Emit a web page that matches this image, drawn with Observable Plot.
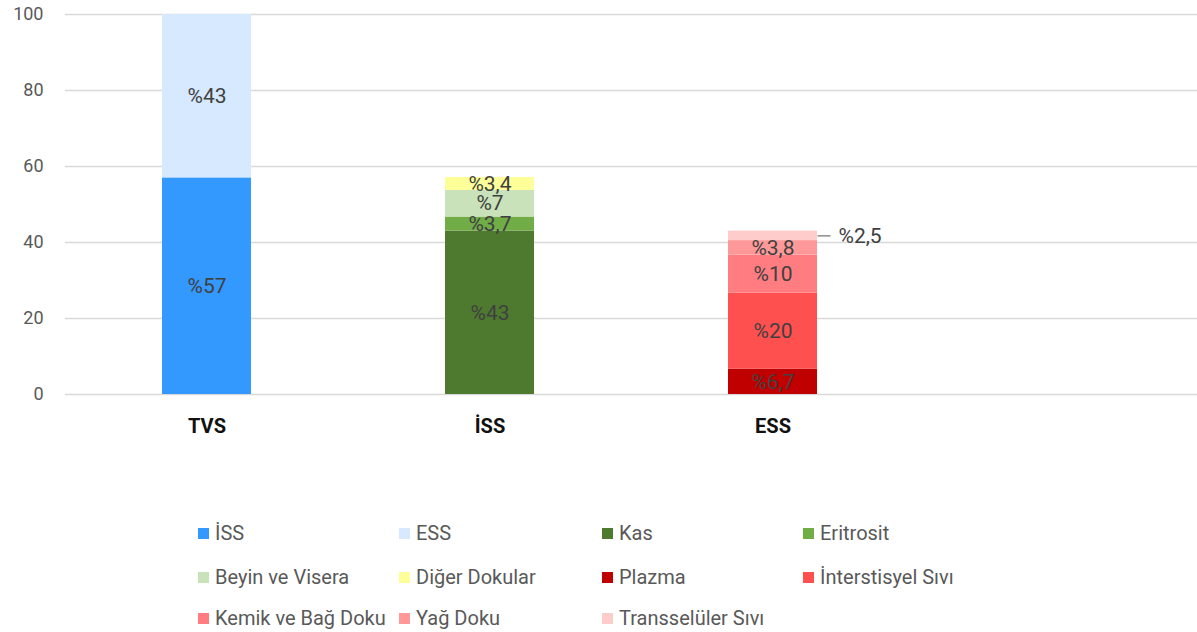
<!DOCTYPE html>
<html><head><meta charset="utf-8">
<script src="https://cdn.jsdelivr.net/npm/d3@7"></script>
<script src="https://cdn.jsdelivr.net/npm/@observablehq/plot@0.6"></script>
<style>
body{margin:0;background:#fff;font-family:Roboto,"Open Sans",sans-serif;}
#wrap{position:relative;width:1197px;height:632px;overflow:hidden;}
#chart{position:absolute;left:0;top:0;}
.leg{position:absolute;display:flex;align-items:center;height:24px;font-size:20px;color:#595959;white-space:nowrap;}
.sw{width:11px;height:11px;margin-right:6px;flex:none;}
</style></head><body><div id="wrap"><div id="chart"></div></div>
<script>
const categories = ["TVS", "İSS", "ESS", ""];
const parts = ["İSS", "ESS", "Kas", "Eritrosit", "Beyin ve Visera", "Diğer Dokular", "Plazma", "İnterstisyel Sıvı", "Kemik ve Bağ Doku", "Yağ Doku", "Transselüler Sıvı"];
const partCategory = ["TVS", "TVS", "İSS", "İSS", "İSS", "İSS", "ESS", "ESS", "ESS", "ESS", "ESS"];
const partValues = [57, 43, 43, 3.7, 7, 3.4, 6.7, 20, 10, 3.8, 2.5];
const partColors = ["#3399FF", "#D6E9FF", "#4E7A2F", "#70AD47", "#C9E2BA", "#FFFF99", "#C00000", "#FF5050", "#FF7C80", "#FF9999", "#FFCCCC"];
const externalLabel = ["Transselüler Sıvı"];
const yTicks = [0, 20, 40, 60, 80, 100];

const fmt = v => "%" + String(v).replace(".", ",");
const data = parts.map((p, i) => ({
  part: p, cat: partCategory[i], value: partValues[i], label: fmt(partValues[i]),
  external: externalLabel.includes(p)
}));

// position of the externally labelled segment, derived from the stack
const ext = [];
data.forEach((d, i) => {
  if (d.external) {
    const below = d3.sum(data.slice(0, i).filter(e => e.cat === d.cat), e => e.value);
    ext.push({cat: d.cat, y: below + d.value / 2, label: d.label});
  }
});

const lineSymbol = {draw(ctx) { ctx.moveTo(-6.5, 0); ctx.lineTo(6.5, 0); }};

const plot = Plot.plot({
  width: 1197, height: 445,
  marginTop: 14, marginBottom: 51, marginLeft: 65, marginRight: 0,
  style: {fontFamily: "Roboto, 'Open Sans', sans-serif", fontSize: "18px", color: "#595959", background: "white"},
  x: {domain: categories, paddingInner: 0.686, paddingOuter: 0.343, label: null},
  y: {domain: [0, 100], label: null},
  color: {domain: parts, range: partColors},
  marks: [
    Plot.gridY(yTicks, {stroke: "#d9d9d9", strokeOpacity: 1, strokeWidth: 1.5}),
    Plot.axisY(yTicks, {tickSize: 0, tickPadding: 22, fontSize: 18, fill: "#595959", label: null}),
    Plot.axisX({tickSize: 0, tickPadding: 24, fontSize: 20, fontWeight: "bold", fill: "#111", label: null}),
    Plot.barY(data, {x: "cat", y: "value", z: "part", fill: "part"}),
    Plot.text(data, Plot.stackY({x: "cat", y: "value", z: "part", text: d => d.external ? null : d.label, fill: "#404040", fontSize: 21})),
    Plot.dot(ext, {x: "cat", y: "y", symbol: lineSymbol, r: 5, stroke: "#8c8c8c", strokeWidth: 1.5, fill: "none", dx: 51}),
    Plot.text(ext, {x: "cat", y: "y", text: "label", textAnchor: "start", dx: 65.5, fill: "#404040", fontSize: 21})
  ]
});
document.getElementById("chart").appendChild(plot);

// legend
const colX = [198, 399, 602, 803];
const rowY = [533, 577, 618];
const wrap = document.getElementById("wrap");
parts.forEach((p, i) => {
  const el = document.createElement("div");
  el.className = "leg";
  el.style.left = colX[i % 4] + "px";
  el.style.top = (rowY[Math.floor(i / 4)] - 12) + "px";
  const sw = document.createElement("span");
  sw.className = "sw";
  sw.style.background = partColors[i];
  el.appendChild(sw);
  el.appendChild(document.createTextNode(p));
  wrap.appendChild(el);
});
</script>
</body></html>
